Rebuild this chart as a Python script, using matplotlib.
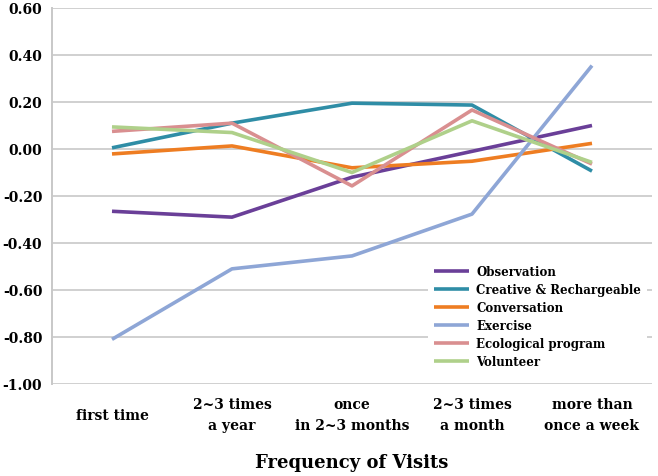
import matplotlib
matplotlib.use('Agg')
import matplotlib.pyplot as plt
import numpy as np

# ---- data ----
categories = ["first time", "2~3 times\na year", "once\nin 2~3 months",
              "2~3 times\na month", "more than\nonce a week"]
series_names = ["Observation", "Creative & Rechargeable", "Conversation",
                "Exercise", "Ecological program", "Volunteer"]
observation = [-0.265, -0.29, -0.12, -0.01, 0.10]
creative = [0.005, 0.11, 0.195, 0.187, -0.094]
conversation = [-0.021, 0.013, -0.08, -0.052, 0.024]
exercise = [-0.81, -0.51, -0.455, -0.277, 0.355]
ecological = [0.075, 0.11, -0.157, 0.166, -0.064]
volunteer = [0.094, 0.07, -0.10, 0.12, -0.057]
yticks = [0.6, 0.4, 0.2, 0.0, -0.2, -0.4, -0.6, -0.8, -1.0]

colors = ["#6A3F98", "#2F8DA6", "#EE7D22", "#8EA6D6", "#D98F90", "#AFD08A"]
series = [observation, creative, conversation, exercise, ecological, volunteer]

font = "DejaVu Serif"

fig = plt.figure(figsize=(6.58, 4.77), dpi=100)
ax = fig.add_axes([52 / 658, 1 - 385 / 477, 600 / 658, 376 / 477])

x = np.arange(len(categories))
for name, vals, c in zip(series_names, series, colors):
    ax.plot(x, vals, color=c, lw=2.6, label=name, solid_capstyle='butt')

ax.set_xlim(-0.5, len(categories) - 0.5)
ax.set_ylim(-1.0, 0.6)
ax.set_yticks(yticks)
ax.set_yticklabels([f"{v:.2f}" for v in yticks], fontfamily=font,
                   fontweight='bold', fontsize=10)
ax.set_xticks(x)
ax.set_xticklabels(categories, fontfamily=font, fontweight='bold',
                   fontsize=10, linespacing=1.6, va='center')
ax.tick_params(length=0)
ax.tick_params(axis='x', pad=22)
ax.tick_params(axis='y', pad=7)

ax.grid(axis='y', color='#D0D0D0', lw=1.4)
ax.set_axisbelow(True)
for s in ['top', 'right', 'bottom']:
    ax.spines[s].set_visible(False)
ax.spines['left'].set_color('#C8C8C8')
ax.spines['left'].set_linewidth(1.4)

ax.set_xlabel("Frequency of Visits", fontfamily=font, fontweight='bold',
              fontsize=13, labelpad=15)

leg = ax.legend(loc='upper left', bbox_to_anchor=(428 / 658, 1 - 260 / 477),
                bbox_transform=fig.transFigure, frameon=True,
                prop={'family': font, 'weight': 'bold', 'size': 8.5},
                handlelength=3.0, handletextpad=0.6, labelspacing=0.42,
                borderpad=0.5, borderaxespad=0)
leg.get_frame().set_edgecolor('none')
leg.get_frame().set_facecolor('white')
leg.get_frame().set_alpha(1)
for line in leg.get_lines():
    line.set_linewidth(2.6)

fig.savefig("out.png", dpi=100)
